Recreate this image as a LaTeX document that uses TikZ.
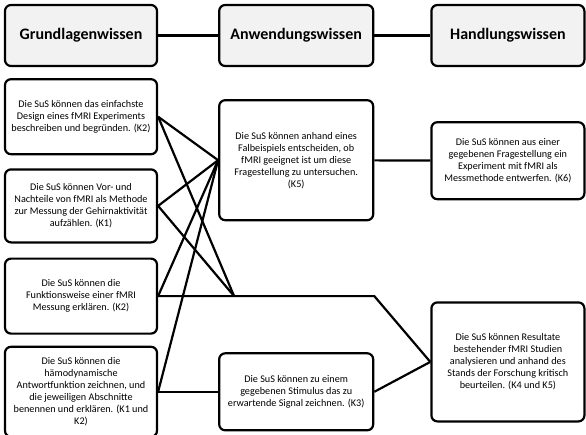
\documentclass[tikz,border=0pt]{standalone}
\usepackage{fontspec}
\setmainfont{Carlito}
\usetikzlibrary{positioning}

\begin{document}
\begin{tikzpicture}[x=1pt, y=-1pt, line width=2.2pt,
    box/.style={rectangle, draw, rounded corners=6pt, fill=white, minimum width=152pt, align=center, inner sep=1pt, font=\fontsize{10.2}{12}\selectfont},
    hdr/.style={box, fill=gray!10, minimum height=61pt, font=\bfseries\fontsize{16}{18}\selectfont}]
    \useasboundingbox (0,0) rectangle (586,434);
    % Kopfzeile
    \node [hdr] (g) at (81,35.5) {Grundlagenwissen};
    \node [hdr, right=60pt of g, minimum width=154pt] (a) {Anwendungswissen};
    \node [hdr, right=56pt of a, minimum width=153pt] (h) {Handlungswissen};
    % Grundlagenwissen
    \node [box, below=11pt of g, minimum height=75pt] (l1) {Die SuS können das einfachste\\Design eines fMRI Experiments\\beschreiben und begründen. (K2)};
    \node [box, below=13pt of l1, minimum height=73pt] (l2) {Die SuS können Vor- und\\Nachteile von fMRI als Methode\\zur Messung der Gehirnaktivität\\aufzählen. (K1)};
    \node [box, below=14pt of l2, minimum height=75pt] (l3) {Die SuS können die\\Funktionsweise einer fMRI\\Messung erklären. (K2)};
    \node [box, below=11pt of l3, minimum height=90pt] (l4) {Die SuS können die\\hämodynamische\\Antwortfunktion zeichnen, und\\die jeweiligen Abschnitte\\benennen und erklären. (K1 und\\K2)};
    % Anwendungswissen
    \node [box, below=32pt of a, minimum width=154pt, minimum height=120pt] (m1) {Die SuS können anhand eines\\Falbeispiels entscheiden, ob\\fMRI geeignet ist um diese\\Fragestellung zu untersuchen.\\(K5)};
    \node [box, minimum width=154pt, minimum height=77pt] (m2) at (a |- l4) {Die SuS können zu einem\\gegebenen Stimulus das zu\\erwartende Signal zeichnen. (K3)};
    % Handlungswissen
    \node [box, below=54pt of h, minimum width=153pt, minimum height=77pt] (r1) {Die SuS können aus einer\\gegebenen Fragestellung ein\\Experiment mit fMRI als\\Messmethode entwerfen. (K6)};
    \node [box, below=101pt of r1, minimum width=153pt, minimum height=119pt] (r2) {Die SuS können Resultate\\bestehender fMRI Studien\\analysieren und anhand des\\Stands der Forschung kritisch\\beurteilen. (K4 und K5)};
    \coordinate [right=76pt of l3.east] (j);
    \coordinate (k) at (m1.east |- l3.east);
    % Verbindungen
    \draw (g) -- (a);
    \draw (a) -- (h);
    \draw (m1) -- (r1);
    \draw (l1.east) -- (m1.west);
    \draw (l2.east) -- (m1.west);
    \draw (l3.east) -- (m1.west);
    \draw (l4.east) -- (m1.west);
    \draw (l1.east) -- (j);
    \draw (l2.east) -- (j);
    \draw (l3.east) -- (k) -- (r2.west);
    \draw (l4) -- (m2);
    \draw (m2.east) -- (r2.west);
\end{tikzpicture}
\end{document}
